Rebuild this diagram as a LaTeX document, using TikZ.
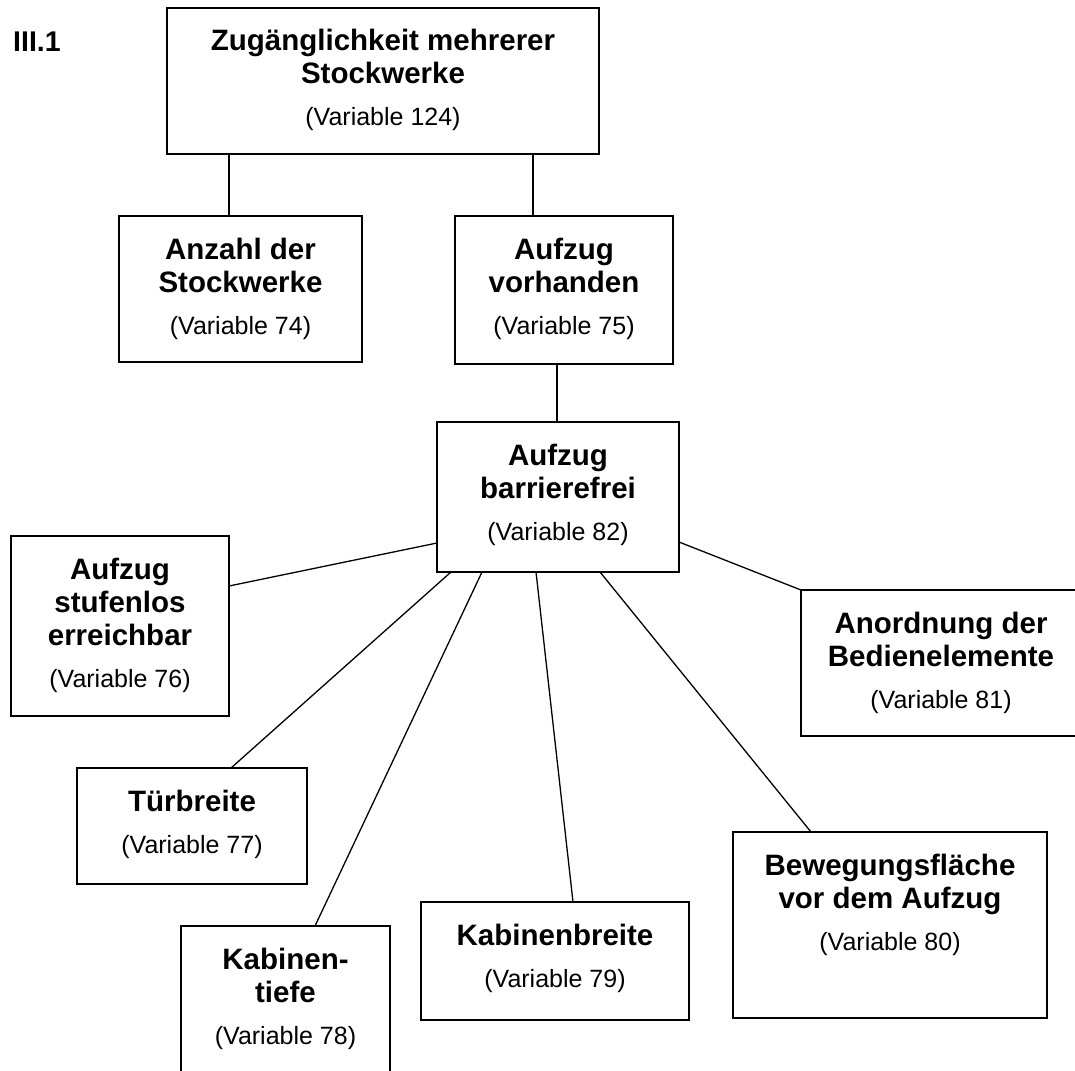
\documentclass[tikz,border=0pt]{standalone}
\usepackage{fontspec}
\setmainfont{Liberation Sans}
\newcommand{\bxc}[4]{\parbox[t][#2pt][t]{#1pt}{\centering\lineskiplimit=-10pt\bfseries\fontsize{29.5}{33}\selectfont\rule{0pt}{43pt}#3\\[9pt]\normalfont\fontsize{25}{33}\selectfont #4}}
\begin{document}
\begin{tikzpicture}[x=1pt,y=-1pt,
  bx/.style={draw, line width=1.6pt, inner sep=0pt, outer sep=0pt, anchor=north west},
  conn/.style={line width=1.3pt}]
\useasboundingbox (0,0) rectangle (1075,1070);
\node[anchor=base west, inner sep=0pt, font=\bfseries\fontsize{28.5}{28.5}\selectfont] (lbl) at (13,52) {III.1};
\node[bx] (top) at (167,8) {\bxc{432}{146}{Zugänglichkeit mehrerer\\Stockwerke}{(Variable 124)}};
\node[bx] (anz) at (119,216) {\bxc{243}{146}{Anzahl der\\Stockwerke}{(Variable 74)}};
\node[bx] (vor) at (455,216) {\bxc{218}{148}{Aufzug\\vorhanden}{(Variable 75)}};
\node[bx] (barr) at (437,422) {\bxc{242}{150}{Aufzug\\barrierefrei}{(Variable 82)}};
\node[bx] (stuf) at (11,536) {\bxc{218}{180}{Aufzug\\stufenlos\\erreichbar}{(Variable 76)}};
\node[bx] (anord) at (801,590) {\bxc{280}{146}{Anordnung der\\Bedienelemente}{(Variable 81)}};
\node[bx] (tuer) at (77,768) {\bxc{230}{116}{Türbreite}{(Variable 77)}};
\node[bx] (ktief) at (181,926) {\bxc{209}{170}{Kabinen-\\tiefe}{(Variable 78)}};
\node[bx] (kbreit) at (421,902) {\bxc{268}{118}{Kabinenbreite}{(Variable 79)}};
\node[bx] (beweg) at (733,832) {\bxc{314}{186}{Bewegungsfläche\\vor dem Aufzug}{(Variable 80)}};
\draw[conn] ([xshift=62pt]top.south west) -- ([xshift=110pt]anz.north west);
\draw[conn] ([xshift=366pt]top.south west) -- ([xshift=78pt]vor.north west);
\draw[conn] ([xshift=102pt]vor.south west) -- ([xshift=120pt]barr.north west);
\draw[conn] ([yshift=-121pt]barr.north west) -- ([yshift=-50pt]stuf.north east);
\draw[conn] ([xshift=14pt]barr.south west) -- ([xshift=154pt]tuer.north west);
\draw[conn] ([xshift=45pt]barr.south west) -- ([xshift=134pt]ktief.north west);
\draw[conn] ([xshift=99pt]barr.south west) -- ([xshift=152pt]kbreit.north west);
\draw[conn] ([xshift=163pt]barr.south west) -- ([xshift=78pt]beweg.north west);
\draw[conn] ([yshift=-120pt]barr.north east) -- (anord.north west);
\end{tikzpicture}
\end{document}
